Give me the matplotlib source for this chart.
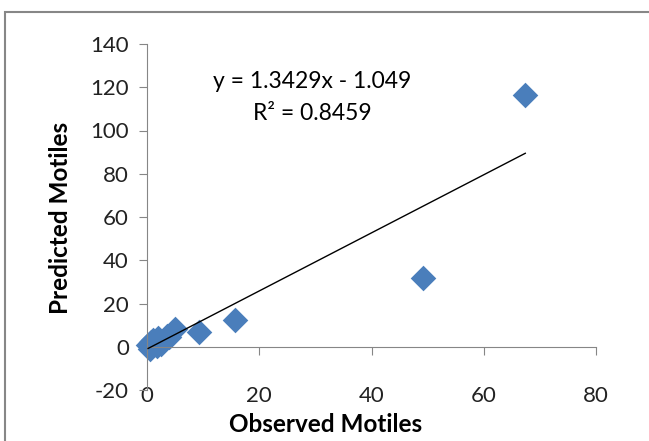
import numpy as np
import matplotlib.pyplot as plt
from matplotlib.patches import Rectangle

# Observed vs predicted motiles
observed = [0.2, 0.5, 0.8, 1.0, 1.5, 1.8, 2.0, 2.5, 3.0, 3.5, 4.0, 5.0, 9.2, 15.7, 49.2, 67.4]
predicted = [1.0, -1.0, 2.0, 3.0, 2.0, 0.5, 4.0, 1.5, 3.0, 5.0, 4.5, 8.0, 7.0, 12.5, 32.0, 116.3]

slope = 1.3429
intercept = -1.049
r2 = 0.8459

x_ticks = [0, 20, 40, 60, 80]
y_ticks = [-20, 0, 20, 40, 60, 80, 100, 120, 140]

plt.rcParams['font.family'] = ['Lato', 'DejaVu Sans']
plt.rcParams['axes.unicode_minus'] = False
gray = '#868686'
W, H = 649, 441

fig = plt.figure(figsize=(6.49, 4.41), dpi=100)
ax = fig.add_axes([147 / W, 1 - 390 / H, (596 - 147) / W, (390 - 44) / H])

ax.scatter(observed, predicted, marker='D', s=170, color='#4A7EBB', zorder=2,
           linewidths=0, clip_on=False)

# linear trendline over the data range
xs = np.array([min(observed), max(observed)])
ax.plot(xs, slope * xs + intercept, color='black', lw=1, zorder=3)

ax.set_xlim(0, 80)
ax.set_ylim(-20, 140)
ax.set_xticks(x_ticks)
ax.set_yticks(y_ticks)

ax.spines['top'].set_visible(False)
ax.spines['right'].set_visible(False)
ax.spines['bottom'].set_position(('data', 0))
ax.spines['bottom'].set_color(gray)
ax.spines['left'].set_color(gray)
ax.patch.set_visible(False)

ax.tick_params(axis='x', direction='out', length=6, color=gray, pad=22, labelsize=16, labelcolor='#222222')
ax.tick_params(axis='y', direction='out', length=6, color=gray, pad=7, labelsize=16, labelcolor='#222222')

fig.text(312 / W, 1 - 82 / H, 'y = 1.3429x - 1.049', ha='center', va='center', fontsize=16.5)
fig.text(312 / W, 1 - 113 / H, 'R² = 0.8459', ha='center', va='center', fontsize=16.5)

fig.text(326 / W, 1 - 424 / H, 'Observed Motiles', ha='center', va='center',
         fontsize=17.5, fontweight='bold')
fig.text(60 / W, 1 - 218 / H, 'Predicted Motiles', ha='center', va='center',
         rotation=90, fontsize=17.5, fontweight='bold')

fig.patches.append(Rectangle((5 / W, -0.2), 1.2, 1.2 - 12 / H, transform=fig.transFigure,
                             fill=False, edgecolor='#878787', lw=1.5))

fig.savefig('out.png', dpi=100)
